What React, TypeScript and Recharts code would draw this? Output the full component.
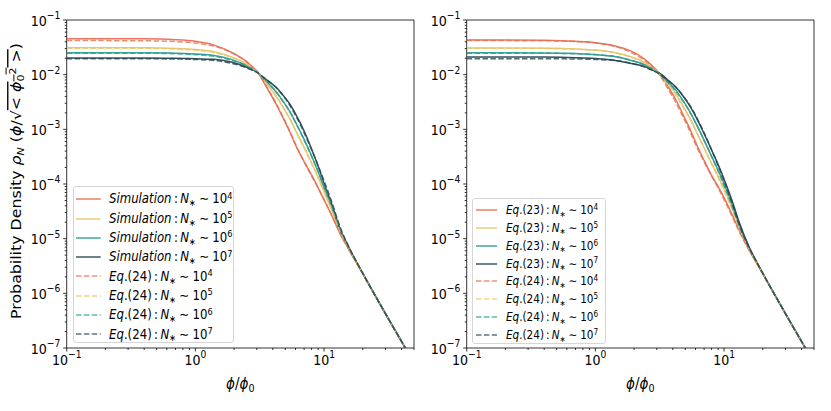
import React from "react";
import { Legend, Line, LineChart, ReferenceArea, XAxis, YAxis } from "recharts";

// phi / phi_0 sample points shared by every curve
const phiRatio = [
  0.1, 0.2, 0.4, 0.7, 1, 1.4, 1.9, 2.4, 2.8, 3.05, 3.3, 3.7, 4.2, 4.8, 5.4, 6.1, 6.9, 7.9, 9,
  10.2, 11.6, 13.2, 15.5, 19, 24, 31, 40, 50
];

// log10 of the probability density, left panel, simulation (solid)
const simN4 = [
  -1.342, -1.342, -1.344, -1.36, -1.39, -1.46, -1.59, -1.73, -1.865, -1.95, -2.087, -2.29,
  -2.523, -2.79, -3.04, -3.32, -3.565, -3.81, -4.07, -4.33, -4.6, -4.89, -5.19, -5.55, -5.97,
  -6.43, -6.88, -7.28
];
const simN5 = [
  -1.508, -1.508, -1.509, -1.52, -1.54, -1.582, -1.674, -1.784, -1.889, -1.955, -2.064, -2.209,
  -2.382, -2.594, -2.801, -3.051, -3.299, -3.583, -3.884, -4.198, -4.506, -4.848, -5.171, -5.547,
  -5.97, -6.43, -6.88, -7.28
];
const simN6 = [
  -1.6, -1.6, -1.601, -1.608, -1.624, -1.65, -1.72, -1.814, -1.902, -1.957, -2.051, -2.164,
  -2.303, -2.486, -2.669, -2.902, -3.152, -3.457, -3.781, -4.126, -4.454, -4.824, -5.161, -5.543,
  -5.97, -6.43, -6.88, -7.28
];
const simN7 = [
  -1.695, -1.695, -1.696, -1.7, -1.71, -1.72, -1.77, -1.845, -1.915, -1.96, -2.037, -2.118,
  -2.222, -2.374, -2.532, -2.748, -2.999, -3.327, -3.674, -4.05, -4.4, -4.8, -5.15, -5.54,
  -5.97, -6.43, -6.88, -7.28
];

// log10 density, right panel, Eq. (23) (solid)
const eq23N4 = [
  -1.366, -1.367, -1.372, -1.39, -1.415, -1.47, -1.57, -1.71, -1.85, -1.94, -2.04, -2.23, -2.45,
  -2.73, -2.98, -3.27, -3.54, -3.82, -4.05, -4.29, -4.57, -4.86, -5.19, -5.55, -5.97, -6.43,
  -6.88, -7.28
];
const eq23N5 = [
  -1.512, -1.512, -1.516, -1.531, -1.551, -1.595, -1.676, -1.775, -1.883, -1.951, -2.023, -2.172,
  -2.342, -2.571, -2.786, -3.044, -3.309, -3.599, -3.86, -4.136, -4.453, -4.794, -5.162, -5.543,
  -5.97, -6.43, -6.88, -7.28
];
const eq23N6 = [
  -1.599, -1.599, -1.602, -1.615, -1.633, -1.669, -1.74, -1.814, -1.903, -1.957, -2.013, -2.138,
  -2.278, -2.476, -2.671, -2.91, -3.171, -3.468, -3.746, -4.045, -4.383, -4.755, -5.145, -5.539,
  -5.97, -6.43, -6.88, -7.28
];
const eq23N7 = [
  -1.676, -1.676, -1.679, -1.69, -1.705, -1.735, -1.796, -1.849, -1.92, -1.963, -2.004, -2.107,
  -2.22, -2.391, -2.568, -2.79, -3.048, -3.35, -3.645, -3.963, -4.32, -4.72, -5.13, -5.535,
  -5.97, -6.43, -6.88, -7.28
];

// log10 density, Eq. (24) (dashed, drawn in both panels)
const eq24N4 = [
  -1.376, -1.377, -1.38, -1.395, -1.42, -1.48, -1.595, -1.735, -1.87, -1.96, -2.078, -2.275,
  -2.502, -2.775, -3.025, -3.31, -3.567, -3.83, -4.075, -4.325, -4.6, -4.885, -5.19, -5.55,
  -5.97, -6.43, -6.88, -7.28
];
const eq24N5 = [
  -1.516, -1.516, -1.518, -1.532, -1.552, -1.594, -1.681, -1.786, -1.892, -1.959, -2.05, -2.196,
  -2.368, -2.588, -2.799, -3.053, -3.31, -3.597, -3.878, -4.165, -4.48, -4.83, -5.175, -5.547,
  -5.97, -6.43, -6.88, -7.28
];
const eq24N6 = [
  -1.606, -1.606, -1.608, -1.617, -1.634, -1.665, -1.736, -1.82, -1.908, -1.962, -2.038, -2.157,
  -2.297, -2.487, -2.676, -2.912, -3.168, -3.468, -3.77, -4.08, -4.42, -4.79, -5.155, -5.543,
  -5.97, -6.43, -6.88, -7.28
];
const eq24N7 = [
  -1.708, -1.708, -1.709, -1.713, -1.722, -1.742, -1.79, -1.86, -1.925, -1.968, -2.025, -2.118,
  -2.226, -2.387, -2.555, -2.774, -3.03, -3.345, -3.665, -3.995, -4.36, -4.76, -5.14, -5.54,
  -5.97, -6.43, -6.88, -7.28
];

const nExponents = [4, 5, 6, 7];
const xMajorTicks = [0.1, 1, 10];
const yMajorTicks = [1e-7, 1e-6, 1e-5, 1e-4, 1e-3, 1e-2, 1e-1];
const minorSteps = [2, 3, 4, 5, 6, 7, 8, 9];

const colors = ["#e76f51", "#e9c46a", "#2a9d8f", "#264653"];
const FONT = '"DejaVu Sans", sans-serif';
const SQUEEZE = 0.87;
const DASH = "5.5 2.4";

const xTicks = [
  ...xMajorTicks,
  ...xMajorTicks.flatMap((m) => minorSteps.map((s) => m * s)).filter((v) => v <= 50)
];
const yTicks = [
  ...yMajorTicks,
  ...yMajorTicks.slice(0, -1).flatMap((m) => minorSteps.map((s) => m * s))
];

const rows = phiRatio.map((x, i) => ({
  x,
  sim4: 10 ** simN4[i],
  sim5: 10 ** simN5[i],
  sim6: 10 ** simN6[i],
  sim7: 10 ** simN7[i],
  eq23_4: 10 ** eq23N4[i],
  eq23_5: 10 ** eq23N5[i],
  eq23_6: 10 ** eq23N6[i],
  eq23_7: 10 ** eq23N7[i],
  eq24_4: 10 ** eq24N4[i],
  eq24_5: 10 ** eq24N5[i],
  eq24_6: 10 ** eq24N6[i],
  eq24_7: 10 ** eq24N7[i]
}));

type Series = { key: string; head: React.ReactNode; n: number; color: string; dashed: boolean };

const simHead = <i>Simulation</i>;
const eq23Head = (
  <>
    <i>Eq</i>.(23)
  </>
);
const eq24Head = (
  <>
    <i>Eq</i>.(24)
  </>
);

const eq24Series: Series[] = nExponents.map((n, i) => ({
  key: `eq24_${n}`,
  head: eq24Head,
  n,
  color: colors[i],
  dashed: true
}));
const leftSeries: Series[] = [
  ...nExponents.map((n, i) => ({ key: `sim${n}`, head: simHead, n, color: colors[i], dashed: false })),
  ...eq24Series
];
const rightSeries: Series[] = [
  ...nExponents.map((n, i) => ({ key: `eq23_${n}`, head: eq23Head, n, color: colors[i], dashed: false })),
  ...eq24Series
];

const isMajor = (v: number) => Math.abs(Math.log10(v) - Math.round(Math.log10(v))) < 1e-6;
const expText = (v: number) => {
  const e = Math.round(Math.log10(v));
  return e < 0 ? `\u2212${-e}` : `${e}`;
};

function XTick(props: any) {
  const { x, y, payload } = props;
  const v = payload.value as number;
  const major = isMajor(v);
  return (
    <g>
      <line x1={x} x2={x} y1={y} y2={y + (major ? 3.5 : 2)} stroke="#000" strokeWidth={0.8} />
      {major && (
        <text
          transform={`translate(${x},${y + 16.5}) scale(${SQUEEZE},1)`}
          textAnchor="middle"
          fontFamily={FONT}
          fontSize={14.5}
          fill="#000"
        >
          10
          <tspan dy={-6.5} fontSize={10.5}>
            {expText(v)}
          </tspan>
        </text>
      )}
    </g>
  );
}

function YTick(props: any) {
  const { x, y, payload } = props;
  const v = payload.value as number;
  const major = isMajor(v);
  return (
    <g>
      <line x1={x} x2={x - (major ? 3.5 : 2)} y1={y} y2={y} stroke="#000" strokeWidth={0.8} />
      {major && (
        <text
          transform={`translate(${x - 6.5},${y + 5.5}) scale(${SQUEEZE},1)`}
          textAnchor="end"
          fontFamily={FONT}
          fontSize={14.5}
          fill="#000"
        >
          10
          <tspan dy={-6.5} fontSize={10.5}>
            {expText(v)}
          </tspan>
        </text>
      )}
    </g>
  );
}

function XAxisTitle({ centerX }: { centerX: number }) {
  return (
    <text
      transform={`translate(${centerX},389) scale(${SQUEEZE},1)`}
      textAnchor="middle"
      fontFamily={FONT}
      fontSize={15.5}
      fill="#000"
    >
      <tspan fontStyle="italic">ϕ</tspan>/<tspan fontStyle="italic">ϕ</tspan>
      <tspan fontSize={11} dy={3}>
        0
      </tspan>
    </text>
  );
}

function YAxisTitle() {
  return (
    <text
      transform={`translate(21,181) rotate(-90) scale(1,${SQUEEZE})`}
      textAnchor="middle"
      fontFamily={FONT}
      fontSize={15.8}
      fill="#000"
    >
      Probability Density <tspan fontStyle="italic">ρ</tspan>
      <tspan fontStyle="italic" fontSize={11} dy={3}>
        N
      </tspan>
      <tspan dy={-3}> (</tspan>
      <tspan fontStyle="italic">ϕ</tspan>/√
      <tspan style={{ textDecoration: "overline" }}>
        {"< "}
        <tspan fontStyle="italic">ϕ</tspan>
        <tspan fontSize={11} dy={3}>
          0
        </tspan>
        <tspan fontSize={11} dy={-9}>
          2
        </tspan>
        <tspan dy={6}>{" >"}</tspan>
      </tspan>
      )
    </text>
  );
}

function SeriesLabel({ head, n }: { head: React.ReactNode; n: number }) {
  return (
    <span
      style={{
        display: "inline-block",
        transform: `scaleX(${SQUEEZE})`,
        transformOrigin: "left center",
        whiteSpace: "nowrap"
      }}
    >
      {head}
      <span style={{ margin: "0 0.2em" }}>:</span>
      <i>N</i>
      <span style={{ fontSize: "0.7em", position: "relative", top: "0.3em" }}>∗</span>
      <span style={{ margin: "0 0.28em" }}>∼</span>
      10
      <span style={{ fontSize: "0.7em", position: "relative", top: "-0.5em" }}>{n}</span>
    </span>
  );
}

type LegendBoxProps = {
  items: Series[];
  width: number;
  height: number;
  rowHeight: number;
  padTop: number;
  sampleLeft: number;
  sampleWidth: number;
  textLeft: number;
  fontSize: number;
};

function LegendBox(p: LegendBoxProps) {
  return (
    <div
      style={{
        width: p.width,
        height: p.height,
        boxSizing: "border-box",
        border: "1px solid #d6d6d6",
        borderRadius: 3,
        background: "rgba(255,255,255,0.8)",
        paddingTop: p.padTop,
        fontFamily: FONT,
        fontSize: p.fontSize,
        color: "#000"
      }}
    >
      {p.items.map((s) => (
        <div
          key={s.key}
          style={{ height: p.rowHeight, position: "relative", display: "flex", alignItems: "center" }}
        >
          <svg
            width={p.sampleWidth}
            height={4}
            style={{ position: "absolute", left: p.sampleLeft - 1, top: p.rowHeight / 2 - 2 }}
          >
            <line
              x1={0}
              x2={p.sampleWidth}
              y1={2}
              y2={2}
              stroke={s.color}
              strokeWidth={1.5}
              strokeOpacity={s.dashed ? 0.75 : 0.9}
              strokeDasharray={s.dashed ? DASH : undefined}
            />
          </svg>
          <div style={{ position: "absolute", left: p.textLeft - 1, lineHeight: 1 }}>
            <SeriesLabel head={s.head} n={s.n} />
          </div>
        </div>
      ))}
    </div>
  );
}

type PanelProps = {
  series: Series[];
  chartWidth: number;
  axisWidth: number;
  marginRight: number;
  titleX: number;
  showYTitle: boolean;
  legend: LegendBoxProps & { left: number; top: number };
};

function Panel({ series, chartWidth, axisWidth, marginRight, titleX, showYTitle, legend }: PanelProps) {
  return (
    <LineChart
      width={chartWidth}
      height={411}
      data={rows}
      margin={{ top: 20, right: marginRight, bottom: 23, left: 0 }}
    >
      <XAxis
        dataKey="x"
        type="number"
        scale="log"
        domain={[0.1, 50]}
        allowDataOverflow
        ticks={xTicks}
        interval={0}
        tick={(props: any) => <XTick {...props} />}
        tickLine={false}
        tickSize={0}
        tickMargin={0}
        axisLine={false}
        height={40}
        label={<XAxisTitle centerX={titleX} />}
      />
      <YAxis
        type="number"
        scale="log"
        domain={[1e-7, 0.1]}
        allowDataOverflow
        ticks={yTicks}
        interval={0}
        tick={(props: any) => <YTick {...props} />}
        tickLine={false}
        tickSize={0}
        tickMargin={0}
        axisLine={false}
        width={axisWidth}
        label={showYTitle ? <YAxisTitle /> : undefined}
      />
      {series.map((s) => (
        <Line
          key={s.key}
          dataKey={s.key}
          type="monotone"
          stroke={s.color}
          strokeWidth={1.5}
          strokeOpacity={s.dashed ? 0.8 : 0.95}
          strokeDasharray={s.dashed ? DASH : undefined}
          dot={false}
          activeDot={false}
          isAnimationActive={false}
        />
      ))}
      <ReferenceArea
        x1={0.1}
        x2={50}
        y1={1e-7}
        y2={0.1}
        fill="none"
        stroke="#000"
        strokeWidth={0.8}
        ifOverflow="visible"
      />
      <Legend
        layout="vertical"
        align="center"
        verticalAlign="middle"
        wrapperStyle={{ left: legend.left, top: legend.top, width: legend.width, height: legend.height }}
        content={() => <LegendBox {...legend} />}
      />
    </LineChart>
  );
}

export default function App() {
  return (
    <div
      style={{
        position: "absolute",
        left: 0,
        top: 0,
        width: 831,
        height: 411,
        background: "#fff",
        display: "flex"
      }}
    >
      <Panel
        series={leftSeries}
        chartWidth={420}
        axisWidth={66.7}
        marginRight={6}
        titleX={240.3}
        showYTitle
        legend={{
          items: leftSeries,
          left: 72.7,
          top: 186,
          width: 161.3,
          height: 157.3,
          rowHeight: 19.3,
          padTop: 2.6,
          sampleLeft: 3.3,
          sampleWidth: 24.7,
          textLeft: 36.3,
          fontSize: 13.5
        }}
      />
      <Panel
        series={rightSeries}
        chartWidth={411}
        axisWidth={46.7}
        marginRight={17}
        titleX={220.3}
        showYTitle={false}
        legend={{
          items: rightSeries,
          left: 51.7,
          top: 198.3,
          width: 134.3,
          height: 145.7,
          rowHeight: 17.86,
          padTop: 1.8,
          sampleLeft: 4.3,
          sampleWidth: 21,
          textLeft: 34,
          fontSize: 12
        }}
      />
    </div>
  );
}
